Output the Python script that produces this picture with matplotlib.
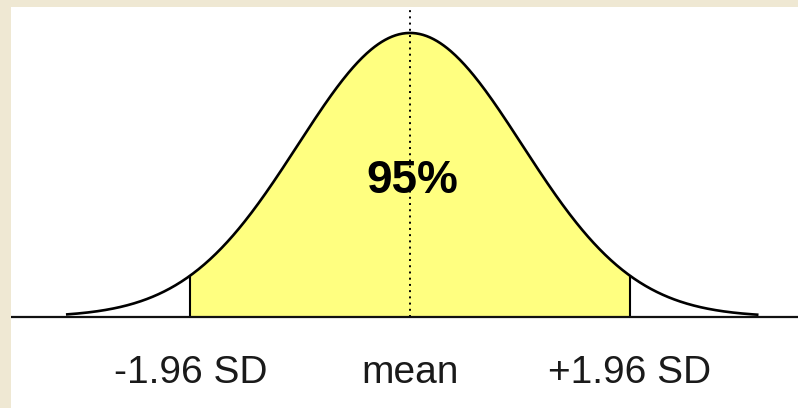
import numpy as np
import matplotlib
matplotlib.use("Agg")
import matplotlib.pyplot as plt

# values
z_lo, z_hi = -1.96, 1.96
curve_start, curve_end = -3.06, 3.10
coverage_label = "95%"
tick_pos = [-1.96, 0.0, 1.96]
tick_labels = ["-1.96 SD", "mean", "+1.96 SD"]

plt.rcParams['font.family'] = ['Liberation Sans', 'DejaVu Sans']

fig = plt.figure(figsize=(7.98, 4.08), dpi=100)
fig.patch.set_facecolor('#efe8d3')
ax = fig.add_axes([11 / 798, 0, 787 / 798, 401 / 408])
ax.set_facecolor('white')

def pdf(z):
    return np.exp(-0.5 * z ** 2) / np.sqrt(2 * np.pi)

z = np.linspace(curve_start, curve_end, 600)
zf = np.linspace(z_lo, z_hi, 400)
ax.fill_between(zf, 0, pdf(zf), color='#ffff80', lw=0)
ax.plot(z, pdf(z), color='black', lw=1.9)
ax.vlines([z_lo, z_hi], 0, pdf(np.array([z_lo, z_hi])), color='black', lw=1.5)
ax.plot([0, 0], [0, 0.5], color='black', lw=1.4, linestyle=(0, (1, 2.2)))
ax.axhline(0, color='#111111', lw=1.6)

ax.text(0.02, 0.191, coverage_label, ha='center', va='center',
        fontsize=33, fontweight='bold')
for p, lab in zip(tick_pos, tick_labels):
    ax.text(p, -0.0787, lab, ha='center', va='center', fontsize=28, color='#1a1a1a')

ax.set_xlim((11 - 410) / 112, (798 - 410) / 112)
ax.set_ylim(-91 / 712, (401 - 91) / 712)
ax.set_xticks([])
ax.set_yticks([])
for s in ax.spines.values():
    s.set_visible(False)

fig.savefig("out.png", dpi=100, facecolor=fig.get_facecolor())
